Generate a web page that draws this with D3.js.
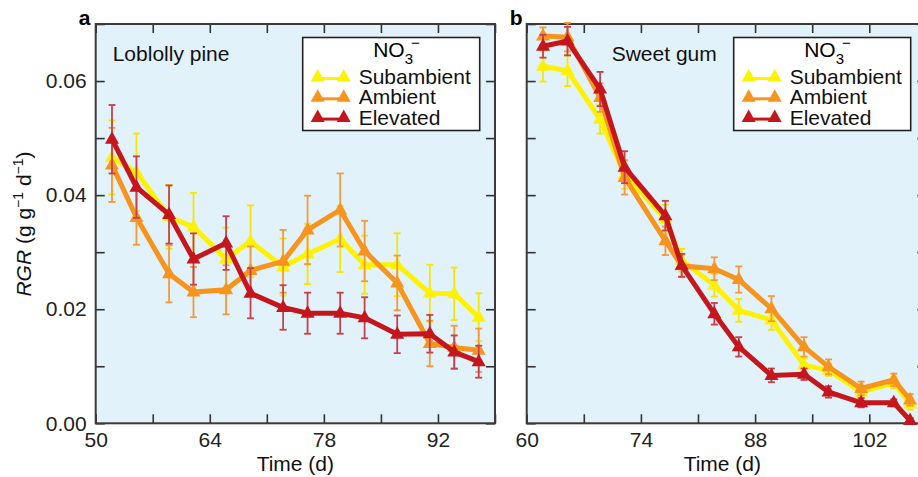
<!DOCTYPE html>
<html>
<head>
<meta charset="utf-8">
<script src="https://cdn.jsdelivr.net/npm/d3@7"></script>
<style>
  body { margin: 0; background: #fff; }
  svg { display: block; font-family: "Liberation Sans", Arial, Helvetica, sans-serif; }
  .tick text { font-size: 21px; fill: #222; }
  .tick line { stroke: #333; stroke-width: 1.6; }
</style>
</head>
<body>
<svg width="918" height="477"></svg>
<script>
// ---- data ----
var seriesNames = ["Subambient", "Ambient", "Elevated"];
var seriesColors = ["#fff200", "#f7941d", "#c4161c"];
var barColors = ["#f5e600", "#f39a3a", "#c8404a"];

// a: Loblolly pine
var daysPine = [52, 55, 59, 62, 66, 69, 73, 76, 80, 83, 87, 91, 94, 97];
var pineSub = [0.0466, 0.0440, 0.0362, 0.0344, 0.0288, 0.0319, 0.0274, 0.0297, 0.0323, 0.0278, 0.0278, 0.0228, 0.0227, 0.0186];
var pineSubErr = [0.0065, 0.0068, 0.0056, 0.0060, 0.0055, 0.0063, 0.0050, 0.0053, 0.0058, 0.0051, 0.0055, 0.0050, 0.0046, 0.0042];
var pineAmb = [0.0453, 0.0361, 0.0262, 0.0230, 0.0234, 0.0268, 0.0284, 0.0339, 0.0374, 0.0302, 0.0246, 0.0140, 0.0133, 0.0128];
var pineAmbErr = [0.0065, 0.0048, 0.0050, 0.0044, 0.0043, 0.0042, 0.0055, 0.0060, 0.0064, 0.0053, 0.0048, 0.0040, 0.0038, 0.0038];
var pineElev = [0.0498, 0.0414, 0.0366, 0.0288, 0.0316, 0.0228, 0.0203, 0.0193, 0.0193, 0.0185, 0.0156, 0.0157, 0.0125, 0.0108];
var pineElevErr = [0.0060, 0.0054, 0.0051, 0.0045, 0.0047, 0.0044, 0.0039, 0.0036, 0.0036, 0.0036, 0.0033, 0.0033, 0.0029, 0.0028];

// b: Sweet gum
var daysGum = [62, 65, 69, 72, 77, 79, 83, 86, 90, 94, 97, 101, 105, 107];
var gumSub = [0.0626, 0.0618, 0.0533, 0.0436, 0.0358, 0.0286, 0.0242, 0.0198, 0.0181, 0.0102, 0.0093, 0.0055, 0.0071, 0.0034];
var gumSubErr = [0.0027, 0.0027, 0.0025, 0.0025, 0.0025, 0.0020, 0.0020, 0.0020, 0.0017, 0.0012, 0.0010, 0.0010, 0.0010, 0.0010];
var gumAmb = [0.0679, 0.0677, 0.0571, 0.0431, 0.0320, 0.0276, 0.0271, 0.0252, 0.0201, 0.0134, 0.0099, 0.0061, 0.0076, 0.0041];
var gumAmbErr = [0.0015, 0.0025, 0.0025, 0.0030, 0.0025, 0.0020, 0.0020, 0.0023, 0.0022, 0.0017, 0.0013, 0.0012, 0.0011, 0.0010];
var gumElev = [0.0661, 0.0670, 0.0586, 0.0449, 0.0364, 0.0277, 0.0192, 0.0134, 0.0084, 0.0086, 0.0055, 0.0036, 0.0036, 0.0005];
var gumElevErr = [0.0020, 0.0025, 0.0030, 0.0028, 0.0026, 0.0020, 0.0019, 0.0017, 0.0012, 0.0010, 0.0010, 0.0008, 0.0006, 0.0004];

var yTicks = [0, 0.01, 0.02, 0.03, 0.04, 0.05, 0.06, 0.07];
var yLabels = [0, 0.02, 0.04, 0.06];
var xTicksPine = [50, 57, 64, 71, 78, 85, 92, 99];
var xLabelsPine = [50, 64, 78, 92];
var xTicksGum = [60, 67, 74, 81, 88, 95, 102, 109];
var xLabelsGum = [60, 74, 88, 102];

// ---- layout ----
var svg = d3.select("svg");
var plotTop = 24, plotBottom = 423.3;
var y = d3.scaleLinear().domain([0, 0.07]).range([plotBottom, plotTop]);

var tri = "M0,-8L7,4.5L-7,4.5Z";

function drawPanel(opts) {
  var x = d3.scaleLinear().domain(opts.domain).range([opts.left, opts.right]);
  var g = svg.append("g");

  // background
  g.append("rect")
      .attr("x", opts.left).attr("y", plotTop)
      .attr("width", opts.right - opts.left).attr("height", plotBottom - plotTop)
      .attr("fill", "#e1f2fb");

  // ticks, all pointing inward
  var fmtX = function(d) { return opts.xLabels.indexOf(d) >= 0 ? d : ""; };
  g.append("g").attr("transform", "translate(0," + plotBottom + ")")
      .call(d3.axisBottom(x).tickValues(opts.xTicks).tickSizeInner(-9).tickSizeOuter(0).tickPadding(9).tickFormat(fmtX));
  g.append("g").attr("transform", "translate(0," + plotTop + ")")
      .call(d3.axisTop(x).tickValues(opts.xTicks).tickSizeInner(-9).tickSizeOuter(0).tickFormat(""));
  g.append("g").attr("transform", "translate(" + opts.left + ",0)")
      .call(d3.axisLeft(y).tickValues(yTicks).tickSizeInner(-9).tickSizeOuter(0).tickPadding(9)
        .tickFormat(function(d) {
          if (!opts.yText) return "";
          return yLabels.some(function(v) { return Math.abs(v - d) < 1e-9; }) ? d3.format(".2f")(d) : "";
        }));
  g.append("g").attr("transform", "translate(" + opts.right + ",0)")
      .call(d3.axisRight(y).tickValues(yTicks).tickSizeInner(-9).tickSizeOuter(0).tickFormat(""));
  g.selectAll(".domain").remove();
  g.selectAll(".tick text").attr("font-family", null).attr("font-size", null);
  g.selectAll(".tick text").filter(function() { return this.textContent === ""; }).remove();

  // frame
  g.append("rect")
      .attr("x", opts.left).attr("y", plotTop)
      .attr("width", opts.right - opts.left).attr("height", plotBottom - plotTop)
      .attr("fill", "none").attr("stroke", "#3a3a3a").attr("stroke-width", 2);

  // series
  opts.series.forEach(function(s, i) {
    var pts = opts.days.map(function(d, j) { return { x: d, v: s.v[j], e: s.e[j] }; });
    var sg = g.append("g");

    var eb = sg.selectAll("g.err").data(pts).enter().append("g")
        .attr("stroke", barColors[i]).attr("stroke-width", 1.8);
    eb.append("line")
        .attr("x1", function(d) { return x(d.x); }).attr("x2", function(d) { return x(d.x); })
        .attr("y1", function(d) { return y(d.v - d.e); }).attr("y2", function(d) { return y(d.v + d.e); });
    eb.append("line")
        .attr("x1", function(d) { return x(d.x) - 3.5; }).attr("x2", function(d) { return x(d.x) + 3.5; })
        .attr("y1", function(d) { return y(d.v + d.e); }).attr("y2", function(d) { return y(d.v + d.e); });
    eb.append("line")
        .attr("x1", function(d) { return x(d.x) - 3.5; }).attr("x2", function(d) { return x(d.x) + 3.5; })
        .attr("y1", function(d) { return y(d.v - d.e); }).attr("y2", function(d) { return y(d.v - d.e); });

    sg.append("path")
        .datum(pts)
        .attr("fill", "none")
        .attr("stroke", seriesColors[i])
        .attr("stroke-width", 5)
        .attr("stroke-linejoin", "miter")
        .attr("d", d3.line().x(function(d) { return x(d.x); }).y(function(d) { return y(d.v); }));

    sg.selectAll("path.mk").data(pts).enter().append("path")
        .attr("class", "mk")
        .attr("d", tri)
        .attr("fill", seriesColors[i])
        .attr("transform", function(d) { return "translate(" + x(d.x) + "," + y(d.v) + ")"; });
  });

  // species label
  g.append("text")
      .attr("x", opts.left + opts.titleDx).attr("y", 61)
      .attr("font-size", 21).attr("fill", "#111")
      .text(opts.title);

  // panel letter
  g.append("text")
      .attr("x", opts.left - 17).attr("y", 25)
      .attr("font-size", 21).attr("font-weight", "bold")
      .text(opts.letter);

  // legend
  var lx = opts.left + 207, ly = 37.5, lw = 177, lh = 93;
  var lg = g.append("g");
  lg.append("rect").attr("x", lx).attr("y", ly).attr("width", lw).attr("height", lh)
      .attr("fill", "#fff").attr("stroke", "#222").attr("stroke-width", 1.6);
  var tt = lg.append("text").attr("x", lx + lw / 2 - 18).attr("y", ly + 19).attr("font-size", 21);
  tt.append("tspan").text("NO");
  tt.append("tspan").attr("font-size", 15).attr("dy", 7).text("3");
  tt.append("tspan").attr("font-size", 15).attr("dx", -2).attr("dy", -16).text("\u2212");
  seriesNames.forEach(function(name, i) {
    var ry = ly + 39.5 + i * 20.3;
    lg.append("line").attr("x1", lx + 13).attr("x2", lx + 42)
        .attr("y1", ry + 1.5).attr("y2", ry + 1.5)
        .attr("stroke", seriesColors[i]).attr("stroke-width", 3);
    [lx + 15, lx + 41].forEach(function(cx) {
      lg.append("path").attr("d", tri).attr("fill", seriesColors[i])
          .attr("transform", "translate(" + cx + "," + ry + ")");
    });
    lg.append("text").attr("x", lx + 56).attr("y", ry + 7)
        .attr("font-size", 21).attr("fill", "#111").text(name);
  });

  // x title
  g.append("text")
      .attr("x", (opts.left + Math.min(opts.right, 918)) / 2)
      .attr("y", 471)
      .attr("text-anchor", "middle").attr("font-size", 21).attr("fill", "#111")
      .text("Time (d)");
}

drawPanel({
  letter: "a", title: "Loblolly pine", titleDx: 17,
  left: 95.7, right: 495, domain: [50, 99],
  xTicks: xTicksPine, xLabels: xLabelsPine, days: daysPine, yText: true,
  series: [
    { v: pineSub, e: pineSubErr },
    { v: pineAmb, e: pineAmbErr },
    { v: pineElev, e: pineElevErr }
  ]
});

drawPanel({
  letter: "b", title: "Sweet gum", titleDx: 85,
  left: 526.7, right: 926.4, domain: [60, 109],
  xTicks: xTicksGum, xLabels: xLabelsGum, days: daysGum, yText: false,
  series: [
    { v: gumSub, e: gumSubErr },
    { v: gumAmb, e: gumAmbErr },
    { v: gumElev, e: gumElevErr }
  ]
});

// y axis title
var yt = svg.append("text")
    .attr("transform", "translate(31,224) rotate(-90)")
    .attr("text-anchor", "middle").attr("font-size", 21).attr("fill", "#111");
yt.append("tspan").attr("font-style", "italic").text("RGR");
yt.append("tspan").text(" (g g");
yt.append("tspan").attr("font-size", 14).attr("dy", -8).text("\u22121");
yt.append("tspan").attr("dy", 8).text(" d");
yt.append("tspan").attr("font-size", 14).attr("dy", -8).text("\u22121");
yt.append("tspan").attr("dy", 8).text(")");
</script>
</body>
</html>
